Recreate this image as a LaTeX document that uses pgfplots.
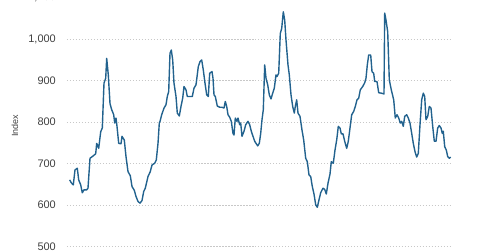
\documentclass[border=0pt]{standalone}
\usepackage{fontspec}
\setmainfont{Liberation Sans}
\usepackage{pgfplots}
\pgfplotsset{compat=1.18}
\definecolor{linec}{HTML}{22628E}
\definecolor{gridc}{HTML}{C8C8C8}
\definecolor{labc}{HTML}{404040}
\begin{document}
\begin{tikzpicture}
\begin{axis}[
  scale only axis,
  width=384bp, height=249bp,
  at={(0,0)}, anchor=south west,
  xmin=67, xmax=451,
  ymin=500, ymax=1100,
  ytick={500,600,700,800,900,1000,1100},
  xtick=\empty,
  axis line style={draw=none},
  major tick length=0pt,
  ymajorgrids,
  grid style={gridc, line width=0.8pt, dash pattern=on 1.2pt off 1.8pt},
  /pgf/number format/assume math mode=true,
  /pgf/number format/1000 sep={,},
  yticklabel style={anchor=east, inner sep=0pt, xshift=-11bp, font=\fontsize{11}{13}\selectfont, text=labc},
  ylabel={Index},
  ylabel style={at={([xshift=-52bp]axis description cs:0,0.485)}, anchor=center, font=\fontsize{9}{11}\selectfont, text=labc},
  clip=false,
]
\addplot[linec, line width=1.4pt, line join=round] coordinates {
(69.7,661)(71.3,654)(73.3,649)(75,685)(77.3,689)(78.7,661)(80.7,649)(82.3,630)(84,637)(86.7,637)(88,641)(90,713)(93.3,719)(95.7,724)(96.7,749)(98.7,737)(100.7,777)(102.3,786)(104,894)(105.7,906)(106.7,954)(108.3,914)(110,845)(111.7,830)(113.7,818)(114.7,798)(116,810)(117,790)(118.7,749)(121,748)(122,766)(124.3,757)(126,717)(128,681)(130.3,671)(132,645)(134.3,636)(136,621)(138,609)(140,605)(142,611)(143.7,633)(145.3,641)(148,669)(150.3,681)(152,697)(154.7,701)(156.3,709)(158,749)(159.3,798)(160,802)(161.7,818)(164,834)(166,842)(167.3,862)(168.7,874)(170,966)(171.3,974)(172.7,950)(174,894)(176,862)(177.3,822)(179.3,815)(181,838)(182.7,858)(184,886)(186,878)(187.3,862)(192.3,862)(194,882)(196,890)(198.3,934)(200,946)(201.7,950)(203.3,926)(205,894)(206.7,866)(208.3,862)(209.7,918)(212,922)(213,906)(214,866)(215.3,862)(217.3,839)(219.7,836)(222,836)(224,834)(225.3,850)(226.7,838)(228,818)(229.7,812)(231.3,802)(233,773)(234,769)(235.3,810)(237,802)(238,810)(239.7,794)(240.7,798)(242,766)(244,778)(245.7,794)(248,802)(249.7,794)(251.3,778)(253,766)(254.7,754)(256.3,748)(257.7,743)(259.3,749)(260.7,773)(262,806)(263.3,830)(264.7,938)(266,906)(267.7,890)(269.3,866)(271,856)(272.7,870)(274.3,882)(276,914)(277,910)(278.7,918)(280.3,1014)(281.7,1026)(283.3,1066)(284.7,1046)(286,998)(288,938)(289.3,914)(291,866)(292.7,838)(294.3,822)(295.3,838)(296.7,854)(298,822)(300,814)(302,781)(303.7,757)(305.7,713)(307.3,705)(309,673)(310.7,669)(312.3,645)(314,627)(315.7,601)(317.3,595)(319,613)(320.7,630)(323,641)(324.7,638)(326.3,627)(328,653)(330,675)(331.3,705)(333.3,701)(335,733)(336.7,757)(338.3,790)(340,786)(341.3,772)(343,772)(344.7,754)(346.7,737)(348.3,754)(350,786)(351.7,818)(353.7,826)(355.3,838)(357,854)(358.7,858)(360.3,878)(362.7,886)(364.7,895)(366,906)(367.3,938)(368.7,962)(370.7,962)(372,922)(373.7,918)(374.7,898)(377,898)(378.7,871)(381.3,870)(384,868)(384.7,1063)(386,1046)(387.7,1018)(389.3,902)(391.3,878)(393.7,854)(395.3,810)(397,818)(398.7,810)(400.3,798)(401.7,802)(403.3,790)(404.7,814)(406.7,818)(408.3,810)(410,798)(411.7,773)(413.3,749)(415,729)(416.7,716)(418.3,725)(420,794)(421.7,854)(423.3,870)(424.7,862)(426,806)(427.7,814)(429.3,838)(431,834)(432.7,790)(434.3,754)(436,754)(437.7,786)(439.3,792)(441,786)(442.3,773)(443.3,778)(444.7,741)(446.3,733)(447.7,717)(449.3,713)(450.7,716)
};
\end{axis}
\pgfresetboundingbox
\path (-67bp,-4.3bp) rectangle (413bp,246.7bp);
\end{tikzpicture}
\end{document}
